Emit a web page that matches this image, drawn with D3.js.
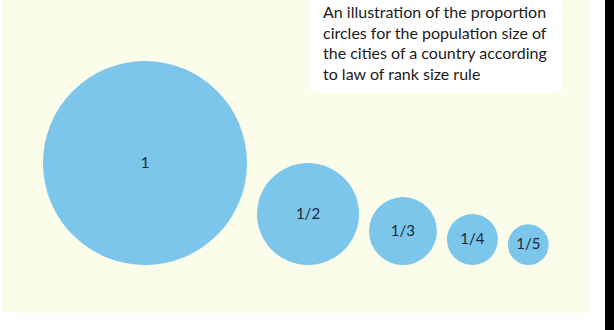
<!DOCTYPE html>
<html>
<head>
<meta charset="utf-8">
<script src="https://cdn.jsdelivr.net/npm/d3@7"></script>
<style>
  html, body { margin: 0; padding: 0; background: #fff; }
  svg { display: block; }
</style>
</head>
<body>
<svg id="chart" width="614" height="330"></svg>
<script>
// rank size rule: population of city n = largest / n
const ranks = [1, 2, 3, 4, 5];
const labels = ["1", "1/2", "1/3", "1/4", "1/5"];
const shares = [1, 0.5, 0.333, 0.25, 0.2];
const titleLines = [
    "An illustration of the proportion",
    "circles for the population size of",
    "the cities of a country according",
    "to law of rank size rule"
];

const svg = d3.select("#chart");

// slide background
svg.append("rect")
    .attr("x", 3).attr("y", 0)
    .attr("width", 586).attr("height", 313)
    .attr("fill", "#fbfdea");

// black edge on the right
svg.append("rect")
    .attr("x", 605).attr("y", 0)
    .attr("width", 9).attr("height", 330)
    .attr("fill", "#000");

// radius scale, radius follows the share directly
let r = d3.scaleLinear().domain([0, 1]).range([0, 102]);
let baseline = 265;
let gap = 10;

// lay circles out left to right, touching the same baseline
let x0 = 43;
let nodes = ranks.map((rank, i) => {
    let rad = r(shares[i]);
    let cx = x0 + rad;
    x0 = cx + rad + gap;
    return { rank, label: labels[i], r: rad, cx, cy: baseline - rad };
});

let g = svg.append("g").attr("class", "circles");

g.selectAll("circle")
    .data(nodes)
    .enter()
    .append("circle")
    .attr("cx", d => d.cx)
    .attr("cy", d => d.cy)
    .attr("r", d => d.r)
    .attr("fill", "#7cc6eb");

g.selectAll("text")
    .data(nodes)
    .enter()
    .append("text")
    .attr("x", d => d.cx)
    .attr("y", d => d.cy + 1)
    .attr("text-anchor", "middle")
    .attr("dominant-baseline", "middle")
    .attr("font-family", "Lato, 'Open Sans', sans-serif")
    .attr("font-size", 15)
    .attr("fill", "#1e2733")
    .text(d => d.label);

// caption box
svg.append("rect")
    .attr("x", 310).attr("y", -6)
    .attr("width", 253).attr("height", 98)
    .attr("rx", 6)
    .attr("fill", "#fff");

svg.append("g")
    .selectAll("text")
    .data(titleLines)
    .enter()
    .append("text")
    .attr("x", 323)
    .attr("y", (d, i) => 18 + i * 20.7)
    .attr("font-family", "Lato, 'Open Sans', sans-serif")
    .attr("font-size", 16)
    .attr("fill", "#1a1a1a")
    .text(d => d);
</script>
</body>
</html>
